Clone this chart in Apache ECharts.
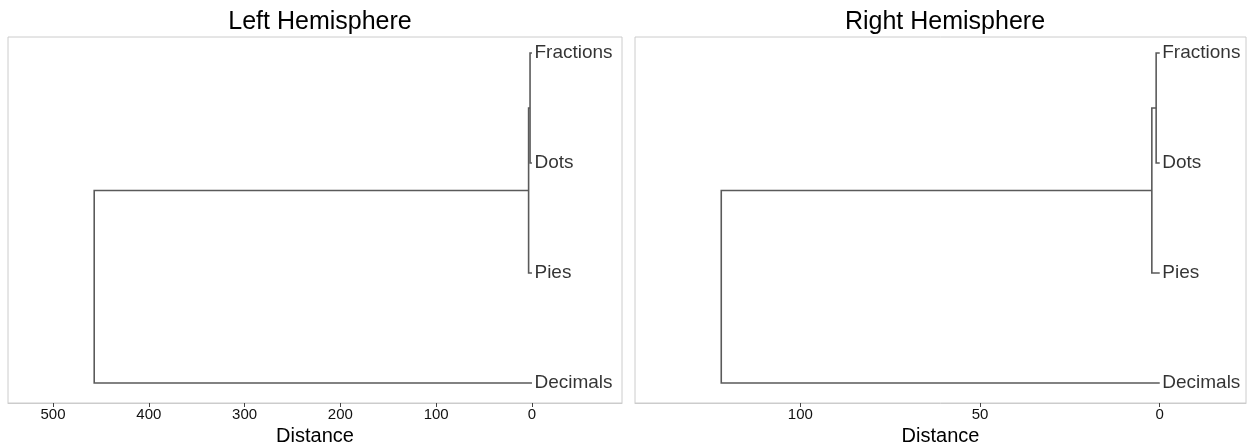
<!DOCTYPE html>
<html>
<head>
<meta charset="utf-8">
<script src="https://cdn.jsdelivr.net/npm/echarts@6/dist/echarts.min.js"></script>
<style>
  html, body { margin: 0; padding: 0; background: #fff; }
  #chart { width: 1247px; height: 442px; }
</style>
</head>
<body>
<div id="chart"></div>
<script>
// Leaves, top to bottom
const leaves = ['Fractions', 'Dots', 'Pies', 'Decimals'];
const leafRows = [4, 3, 2, 1];

// Merge heights: Fractions+Dots, then +Pies, then +Decimals
const leftHeights = [2, 3.5, 457];
const rightHeights = [1, 2.2, 122];

// Axis tick values
const leftTicks = [500, 400, 300, 200, 100, 0];
const rightTicks = [100, 50, 0];

const FONT = 'Liberation Sans, Arial, sans-serif';
const LINE_COLOR = '#5a5a5a';

// Elbow paths of the dendrogram built from the merge heights
function elbows(h) {
  const [yF, yD, yP, yX] = leafRows;
  const yA = (yF + yD) / 2;
  const yB = (yA + yP) / 2;
  return [
    [[0, yF], [h[0], yF], [h[0], yD], [0, yD]],
    [[h[0], yA], [h[1], yA], [h[1], yP], [0, yP]],
    [[h[1], yB], [h[2], yB], [h[2], yX], [0, yX]]
  ];
}

function panel(idx, heights, ticks, xmin, xmax) {
  const xAxis = {
    gridIndex: idx,
    type: 'value',
    inverse: true,
    min: xmin,
    max: xmax,
    name: 'Distance',
    nameLocation: 'middle',
    nameGap: 17,
    nameTextStyle: { fontFamily: FONT, fontSize: 20, color: '#000' },
    splitLine: { show: false },
    axisLine: { show: true, lineStyle: { color: '#cccccc', width: 1 } },
    axisTick: { show: true, customValues: ticks, length: 4, lineStyle: { color: '#444', width: 1 } },
    axisLabel: { show: true, customValues: ticks, fontFamily: FONT, fontSize: 15, color: '#111', margin: 4 }
  };
  const yAxis = {
    gridIndex: idx,
    type: 'value',
    min: 0.818,
    max: 4.145,
    show: false
  };
  const lines = {
    type: 'lines',
    coordinateSystem: 'cartesian2d',
    xAxisIndex: idx,
    yAxisIndex: idx,
    polyline: true,
    silent: true,
    lineStyle: { color: LINE_COLOR, width: 1.6, opacity: 1 },
    data: elbows(heights).map(c => ({ coords: c }))
  };
  const labels = {
    type: 'scatter',
    xAxisIndex: idx,
    yAxisIndex: idx,
    symbolSize: 1,
    itemStyle: { color: 'rgba(0,0,0,0)' },
    silent: true,
    label: {
      show: true,
      position: 'right',
      distance: 2,
      fontFamily: FONT,
      fontSize: 19,
      color: '#000',
      textBorderWidth: 0,
      formatter: p => leaves[p.dataIndex]
    },
    data: leafRows.map(r => [0, r])
  };
  return { xAxis, yAxis, series: [lines, labels] };
}

const L = panel(0, leftHeights, leftTicks, -94, 547);
const R = panel(1, rightHeights, rightTicks, -24, 146);

const option = {
  animation: false,
  backgroundColor: '#fff',
  title: [
    { text: 'Left Hemisphere', left: 315, top: 5, textAlign: 'center',
      textStyle: { fontFamily: FONT, fontSize: 25, fontWeight: 'normal', color: '#000' } },
    { text: 'Right Hemisphere', left: 940, top: 5, textAlign: 'center',
      textStyle: { fontFamily: FONT, fontSize: 25, fontWeight: 'normal', color: '#000' } }
  ],
  grid: [
    { left: 8, width: 614, top: 37, height: 366, show: true, borderColor: '#cccccc', borderWidth: 1,
      outerBoundsMode: 'none', containLabel: false },
    { left: 635, width: 611, top: 37, height: 366, show: true, borderColor: '#cccccc', borderWidth: 1,
      outerBoundsMode: 'none', containLabel: false }
  ],
  xAxis: [L.xAxis, R.xAxis],
  yAxis: [L.yAxis, R.yAxis],
  series: [...L.series, ...R.series]
};

echarts.init(document.getElementById('chart')).setOption(option);
</script>
</body>
</html>
